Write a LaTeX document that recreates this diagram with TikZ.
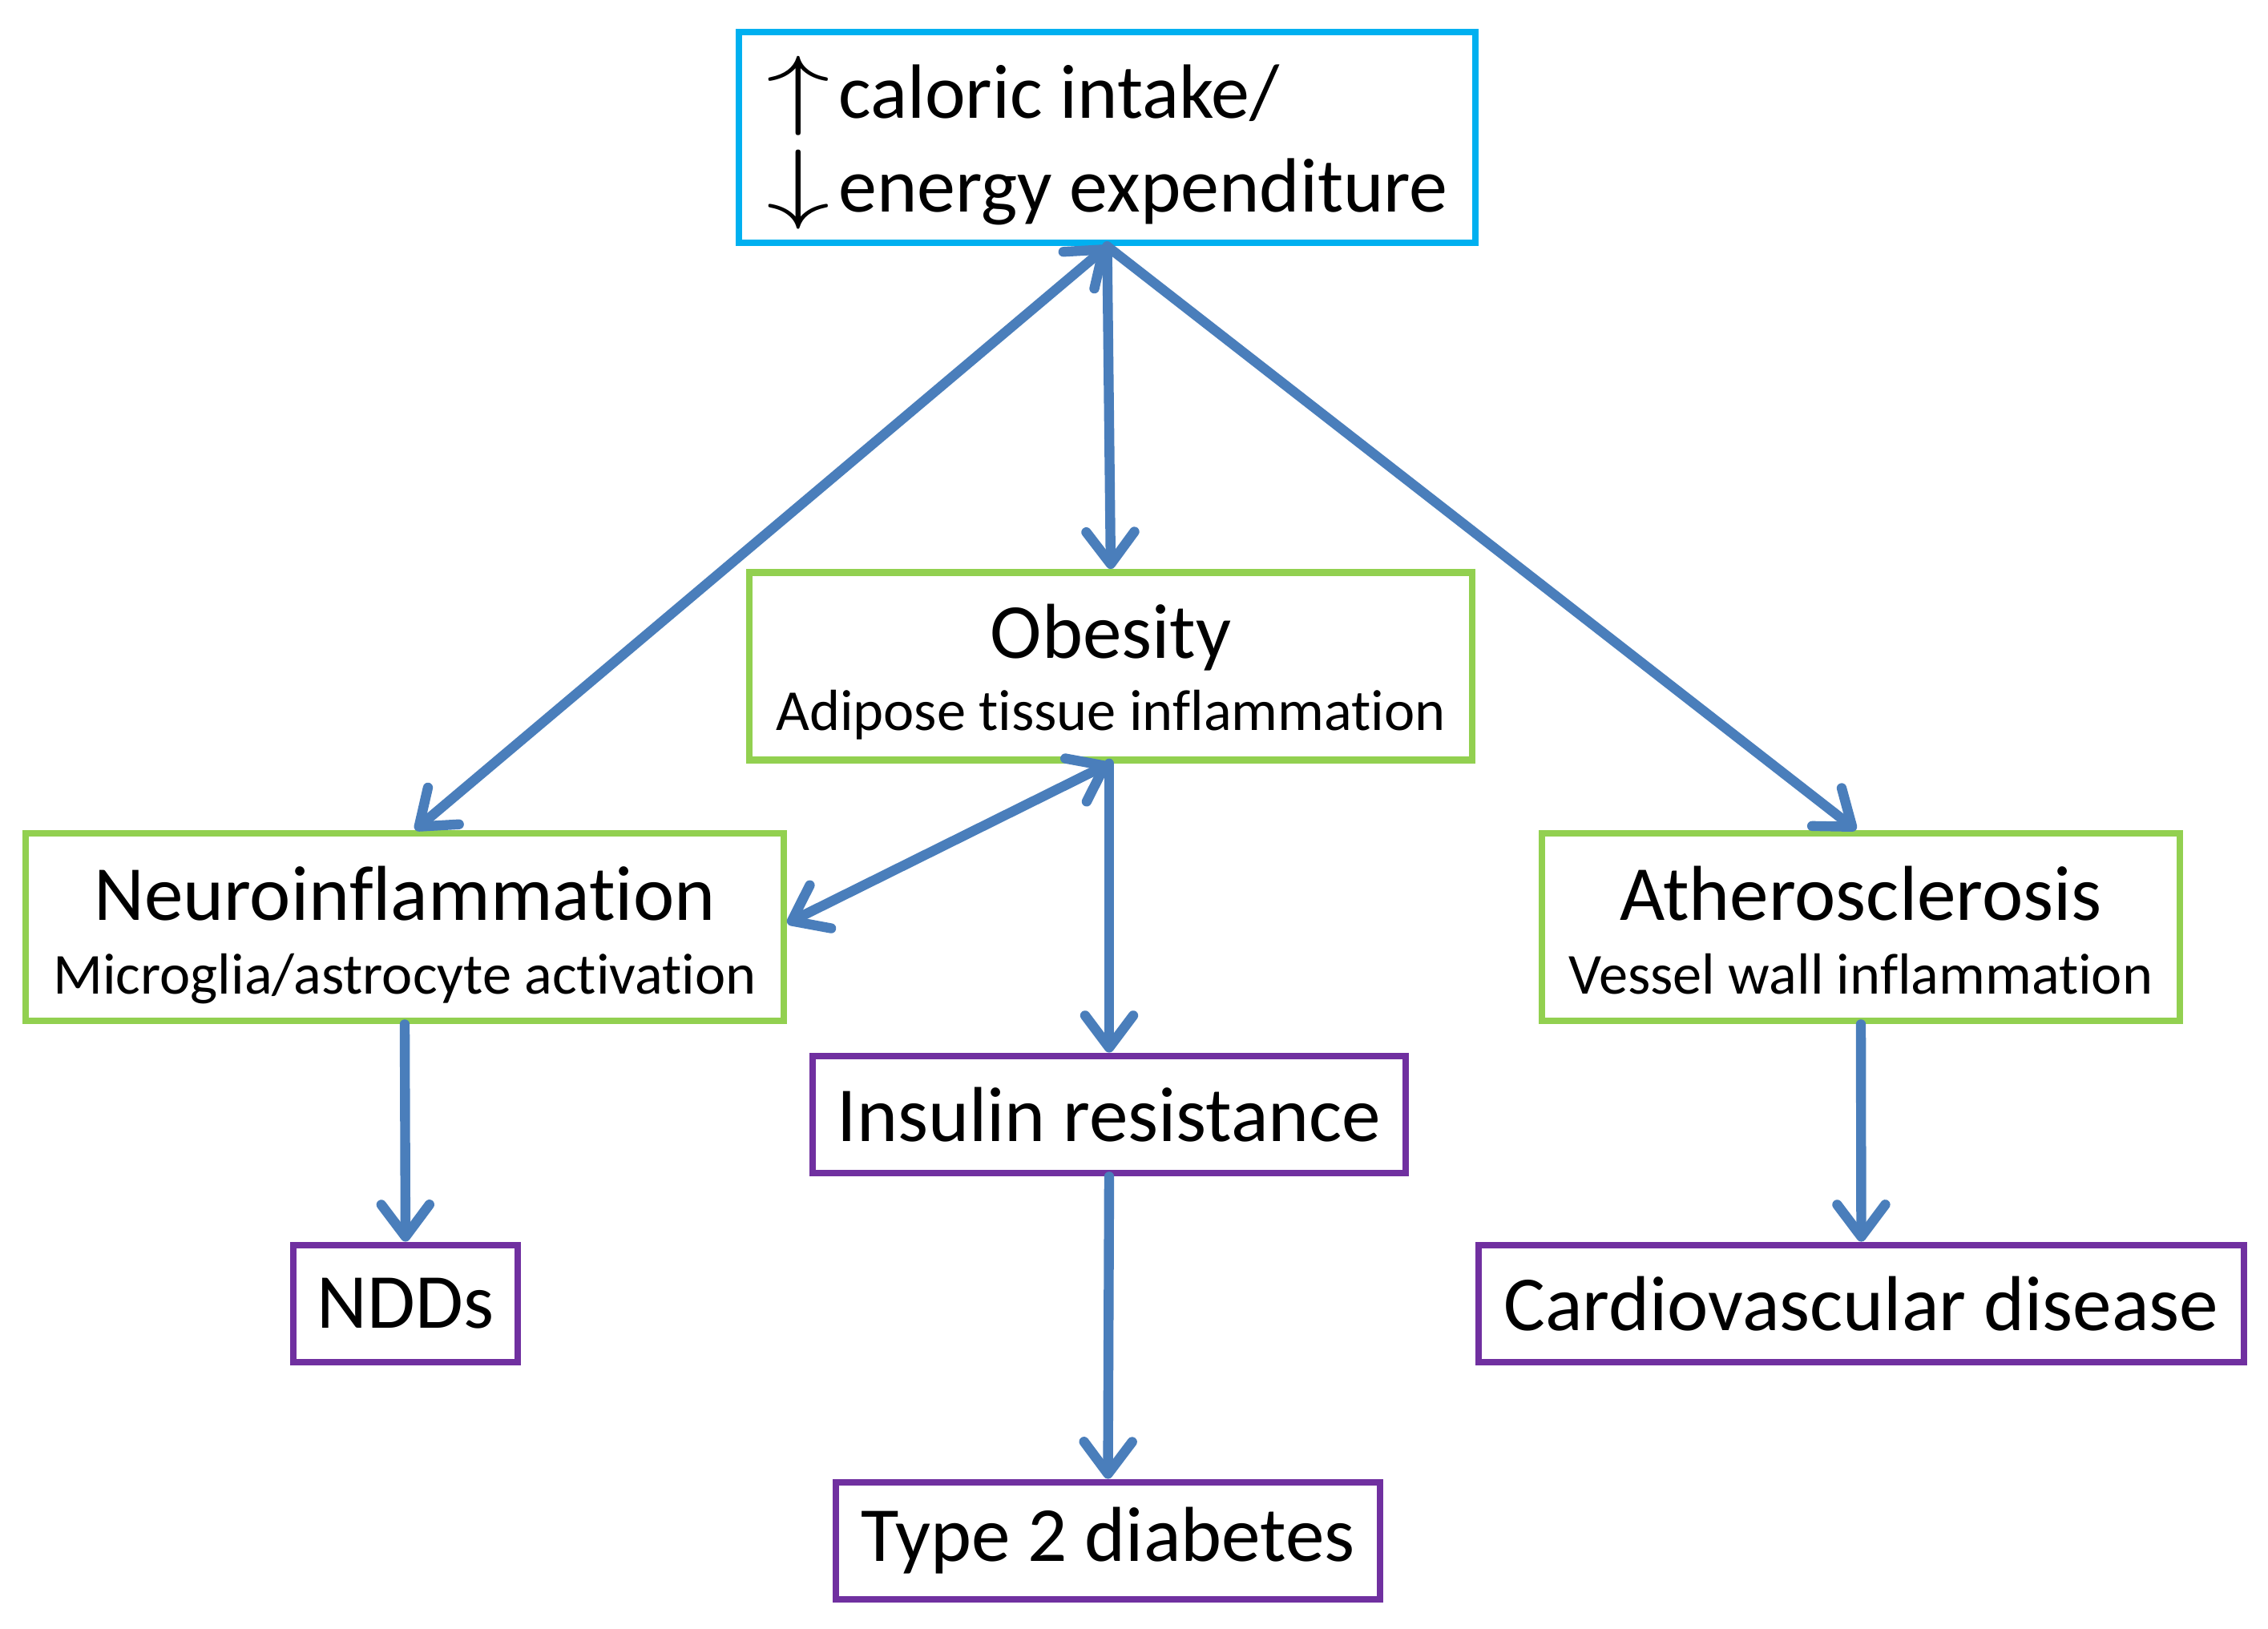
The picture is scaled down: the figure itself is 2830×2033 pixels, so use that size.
\documentclass[tikz,border=0pt]{standalone}
\usepackage{fontspec}
\setmainfont{Carlito}[RawFeature={-liga;-clig;-calt}]
\usetikzlibrary{arrows.meta}
\definecolor{cyanbox}{HTML}{00B0F0}
\definecolor{greenbox}{HTML}{92D050}
\definecolor{purplebox}{HTML}{7030A0}
\definecolor{arrowblue}{HTML}{4A7EBB}
\begin{document}
\begin{tikzpicture}[x=0.25pt,y=-0.25pt,
  box/.style={draw, line width=2.2pt, fill=white, inner sep=0pt, align=center},
  topbox/.style={box, draw=cyanbox},
  midbox/.style={box, draw=greenbox, minimum height=58.5pt},
  endbox/.style={box, draw=purplebox, minimum height=36.5pt, font=\fontsize{24.3}{29}\selectfont},
  title/.style={anchor=base, inner sep=0pt, font=\fontsize{24.3}{29}\selectfont},
  sub/.style={anchor=base, inner sep=0pt, font=\fontsize{18.1}{22}\selectfont},
  topline/.style={anchor=base west, inner sep=0pt, font=\fontsize{24}{29}\selectfont},
  conn/.style={draw=arrowblue, line width=3.1pt, line cap=round,
    -{Straight Barb[length=10pt,width=15pt,round]}},
  conn2/.style={conn, {Straight Barb[length=10pt,width=15pt,round]}-{Straight Barb[length=10pt,width=15pt,round]}}
]
\useasboundingbox (0,0) rectangle (2830,2033);
\fill[white] (0,0) rectangle (2830,2033);

% top box
\node[topbox, minimum width=229.75pt, minimum height=65.75pt] (top) at (1381.5,171.5) {};
\node[topline] (topA) at (956,148) {\scalebox{1.6}[1.12]{$\uparrow$}\hspace{2.5pt}caloric intake/};
\node[topline] (topB) at (956,265) {\scalebox{1.6}[1.12]{$\downarrow$}\hspace{2.5pt}energy expenditure};

% green boxes
\node[midbox, minimum width=225.5pt] (obe) at (1386,831.5) {};
\node[title] (obeT) at (1386,821) {Obesity};
\node[sub] (obeS) at (1386,911) {Adipose tissue inflammation};

\node[midbox, minimum width=236.5pt] (neuro) at (505,1157) {};
\node[title] (neuroT) at (505,1148) {Neuroinflammation};
\node[sub] (neuroS) at (505,1240) {Microglia/astrocyte activation};

\node[midbox, minimum width=199pt] (ath) at (2322,1157) {};
\node[title] (athT) at (2322,1148) {Atherosclerosis};
\node[sub] (athS) at (2322,1240) {Vessel wall inflammation};

% purple boxes
\node[endbox, minimum width=185pt] (ins) at (1384,1391) {Insulin resistance};
\node[endbox, minimum width=70pt] (ndd) at (506,1627) {NDDs};
\node[endbox, minimum width=238.75pt] (cvd) at (2322.5,1627) {Cardiovascular disease};
\node[endbox, minimum width=169.75pt] (t2d) at (1382.5,1923) {Type 2 diabetes};

% connectors
\draw[conn2] (top.south) -- ([xshift=3.25pt]neuro.north);
\draw[conn] (top.south) -- (obe.north);
\draw[conn] (top.south) -- ([xshift=-1.5pt]ath.north);
\draw[conn2] ([xshift=-0.5pt]obe.south) -- ([yshift=1.2pt]neuro.east);
\draw[conn] ([xshift=-0.5pt]obe.south) -- (ins.north);
\draw[conn] (ins.south) -- (t2d.north);
\draw[conn] (neuro.south) -- (ndd.north);
\draw[conn] (ath.south) -- (cvd.north);
\end{tikzpicture}
\end{document}
